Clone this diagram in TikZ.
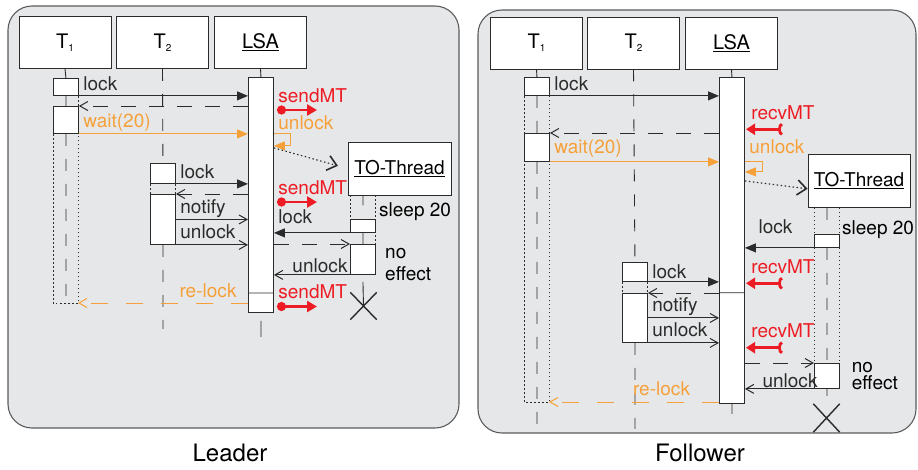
\documentclass[tikz,border=0pt]{standalone}
\usepackage{fontspec}
\setmainfont{TeX Gyre Heros}
\usetikzlibrary{arrows.meta, shapes.misc}
\definecolor{panelfill}{HTML}{E6E7E8}
\definecolor{panelline}{HTML}{5A5B5D}
\definecolor{ink}{HTML}{2B2B2B}
\definecolor{mtred}{HTML}{ED1C24}
\definecolor{lockorange}{HTML}{F6A03A}
\tikzset{
panel/.style={draw=panelline, fill=panelfill, line width=1.1pt, rounded corners=24pt}, % grey plate of one role
caption/.style={font=\fontsize{24}{24}\selectfont, text=black}, % Leader / Follower under the plate
headbox/.style={draw=ink, fill=white, line width=0.9pt, minimum width=92pt, minimum height=52pt, inner sep=0pt, font=\fontsize{20}{20}\selectfont}, % objects on top
actbox/.style={draw=ink, fill=white, line width=0.9pt, minimum width=25pt, inner sep=0pt, anchor=north west}, % activation bars
xmark/.style={draw=ink, cross out, line width=1.4pt, minimum width=25pt, minimum height=26pt, inner sep=0pt}, % thread ends here
solidlife/.style={draw=ink, line width=0.9pt},
life/.style={draw=ink, line width=0.9pt, dash pattern=on 12pt off 13pt}, % dashed lifeline
dotbox/.style={draw=ink, line width=0.9pt, dash pattern=on 1.6pt off 2.4pt}, % thread is waiting
call/.style={color=ink, line width=1pt, -{Triangle[length=11pt, width=9pt]}}, % lock request
signal/.style={color=ink, line width=1pt, -{Straight Barb[length=8pt, width=9pt]}}, % notify / unlock
reply/.style={signal, dash pattern=on 15pt off 13pt}, % return of a call
ocall/.style={call, color=lockorange},
oreply/.style={reply, color=lockorange, dash pattern=on 17pt off 18pt},
timer/.style={color=ink, line width=1.1pt, dash pattern=on 1.5pt off 2.5pt, -{Straight Barb[length=9pt, width=15pt, line width=1.6pt]}},
sendmt/.style={color=mtred, line width=2.8pt, {Circle[length=9pt]}-{Triangle[length=10pt, width=11pt]}},
recvmt/.style={color=mtred, line width=2.8pt, {Arc Barb[reversed, length=4pt, width=13pt]}-{Triangle[length=9pt, width=11pt]}},
tag/.style={anchor=base west, inner sep=0pt, pos=0, xshift=4pt, yshift=#1}, tag/.default=5pt, % label at the start of a message
midtag/.style={anchor=base, inner sep=0pt, yshift=#1},
endtag/.style={anchor=base east, inner sep=0pt, pos=0, xshift=-2pt, yshift=#1},
mttag/.style={anchor=base west, inner sep=0pt, pos=0, yshift=#1},
note/.style={anchor=base west, inner sep=0pt, align=left},
}

\begin{document}
\begin{tikzpicture}[x=1pt, y=-1pt, font=\fontsize{19}{19}\selectfont]
  \useasboundingbox (0,0) rectangle (918,469);

  % ---------------- Leader ----------------
  \draw[panel] (8,6) rectangle (459,428);
  \node[caption] (leader) at (230,453) {Leader};

  \node[headbox] (L_t1) at (65,42.5) {T\raisebox{-3pt}{\fontsize{10}{10}\selectfont 1}};
  \node[headbox] (L_t2) at (162.5,42.5) {T\raisebox{-3pt}{\fontsize{10}{10}\selectfont 2}};
  \node[headbox] (L_lsa) at (260.5,42.5) {\underline{LSA}};
  \node[headbox, minimum width=103pt, minimum height=53pt, font=\fontsize{19}{19}\selectfont] (L_to) at (399.5,168.5) {\underline{TO-Thread}};

  \node[actbox, minimum height=235pt] (L_lsa_act) at (248,77) {};
  \node[actbox, minimum height=17pt] (L_t1_lock) at (53,78) {};
  \node[actbox, minimum height=27pt] (L_t1_wait) at (53,106) {};
  \node[actbox, minimum height=20pt] (L_t2_lock) at (150,163) {};
  \node[actbox, minimum height=50pt] (L_t2_wait) at (150,194) {};
  \node[actbox, minimum height=13pt] (L_to_sleep) at (350,219) {};
  \node[actbox, minimum height=30pt] (L_to_wake) at (350,244) {};
  \node[xmark] (L_end) at (363.5,306) {};

  \coordinate (L_relock) at (78,303);
  \coordinate (L_s1) at (277,110);
  \coordinate (L_s2) at (277,202);
  \coordinate (L_s3) at (277,306.5);

  % lifelines
  \draw[solidlife] (L_t1.south) -- (L_t1_lock.north)
                   (L_t1_lock.south) -- (L_t1_wait.north)
                   (L_lsa.south) -- (L_lsa_act.north)
                   ([yshift=-8pt]L_lsa_act.south) -- ++(0,16)
                   (L_to_sleep.north |- L_to.south) -- ++(0,10)
                   (L_to_sleep.south) -- (L_to_wake.north)
                   ([yshift=-7pt]L_to_wake.south) -- (L_end.center)
                   (L_lsa_act.west |- 0,293) -- (L_lsa_act.east |- 0,293);
  \draw[life] (L_t1_wait.south) -- ([yshift=-4pt]L_t1_wait.south |- L_relock)
              (L_t2.south) -- (L_t2_lock.north)
              (L_t2_wait.south) -- ++(0,84);
  \draw[dotbox] (L_t1_lock.south east) -- (L_t1_wait.north east)
                (L_t1_wait.south west) rectangle (L_relock)
                (L_t2_lock.south west) -- (L_t2_wait.north west)
                (L_t2_lock.south east) -- (L_t2_wait.north east)
                (L_to_sleep.north west |- L_to.south) -- (L_to_sleep.north west)
                (L_to_sleep.north east |- L_to.south) -- (L_to_wake.north east);

  % messages
  \draw (L_t1_lock.south east) edge[call] node[tag]{lock} (L_t1_lock.south east -| L_lsa_act.west)
        (L_lsa_act.west |- L_t1_wait.north) edge[reply] (L_t1_wait.north east)
        (L_t1_wait.south east) edge[ocall] node[tag=6pt]{wait(20)} (L_t1_wait.south east -| L_lsa_act.west)
        (L_t2_lock.south east) edge[call] node[tag]{lock} (L_t2_lock.south east -| L_lsa_act.west)
        (L_lsa_act.west |- L_t2_wait.north) edge[reply] (L_t2_wait.north east)
        (L_t2_wait.east) edge[signal] node[tag=6pt]{notify} (L_t2_wait.east -| L_lsa_act.west)
        (L_t2_wait.south east) edge[signal] node[tag=6pt]{unlock} (L_t2_wait.south east -| L_lsa_act.west)
        (L_to_sleep.south west) edge[call] node[midtag=9pt, pos=0.72]{lock} (L_to_sleep.south west -| L_lsa_act.east)
        (L_lsa_act.east |- L_to_wake.north) edge[reply] (L_to_wake.north west)
        (L_to_wake.south west) edge[signal] node[endtag=2pt]{unlock} (L_to_wake.south west -| L_lsa_act.east)
        (L_lsa_act.west |- L_relock) edge[oreply] node[midtag=6pt, pos=0.235]{re-lock} (L_relock);
  \draw[ocall] (L_lsa_act.east |- L_t1_wait.south) -- node[tag=4pt]{unlock} ++(17,0) -- ++(0,12) -- ++(-17,0) coordinate (L_loop);
  \draw[timer, shorten >=10pt] ([yshift=-2pt]L_loop) -- (L_to.west);
  \draw[sendmt] (L_s1) -- node[mttag=8pt]{sendMT} ++(40,0);
  \draw[sendmt] (L_s2) -- node[mttag=8pt]{sendMT} ++(40,0);
  \draw[sendmt] (L_s3) -- node[mttag=8pt]{sendMT} ++(40,0);

  \node[note] (L_sleep) at (379,216) {sleep 20};
  \node[note, font=\fontsize{19}{21.7}\selectfont] (L_noeffect) at (385,280) {no\\effect};

  % ---------------- Follower ----------------
  \draw[panel] (478,10) rectangle (916,433);
  \node[caption] (follower) at (700,453) {Follower};

  \node[headbox] (R_t1) at (536.5,43) {T\raisebox{-3pt}{\fontsize{10}{10}\selectfont 1}};
  \node[headbox] (R_t2) at (633.5,43) {T\raisebox{-3pt}{\fontsize{10}{10}\selectfont 2}};
  \node[headbox] (R_lsa) at (731.5,43) {\underline{LSA}};
  \node[headbox, minimum width=102pt, minimum height=53pt, font=\fontsize{19}{19}\selectfont] (R_to) at (859,180.8) {\underline{TO-Thread}};

  \node[actbox, minimum height=326pt] (R_lsa_act) at (719,77) {};
  \node[actbox, minimum height=18pt] (R_t1_lock) at (524,77) {};
  \node[actbox, minimum height=28pt] (R_t1_wait) at (524,133) {};
  \node[actbox, minimum height=19pt] (R_t2_lock) at (622,262) {};
  \node[actbox, minimum height=49pt] (R_t2_wait) at (622,293) {};
  \node[actbox, minimum height=13pt] (R_to_sleep) at (814,234) {};
  \node[actbox, minimum height=25pt] (R_to_wake) at (814,363) {};
  \node[xmark, minimum height=27pt] (R_end) at (826.5,418) {};

  \coordinate (R_relock) at (549,402);
  \coordinate (R_r1) at (782,129.3);
  \coordinate (R_r2) at (782,283.3);
  \coordinate (R_r3) at (782,347.7);

  % lifelines
  \draw[solidlife] (R_t1.south) -- (R_t1_lock.north)
                   (R_lsa.south) -- (R_lsa_act.north)
                   (R_lsa_act.south) -- ++(0,10)
                   (R_to_sleep.north |- R_to.south) -- ++(0,12)
                   (R_to_wake.south) -- ++(0,7)
                   (R_lsa_act.west |- 0,292.7) -- (R_lsa_act.east |- 0,292.7);
  \draw[life] (R_t1_lock.south) -- (R_t1_wait.north)
              (R_t1_wait.south) -- ++(0,269)
              (R_t2.south) -- (R_t2_lock.north)
              (R_t2_wait.south) -- ++(0,86)
              (R_to_sleep.south) -- (R_to_wake.north);
  \draw[dotbox] (R_t1_lock.south west) rectangle (R_relock)
                (R_t2_lock.south west) -- (R_t2_wait.north west)
                (R_t2_lock.south east) -- (R_t2_wait.north east)
                (R_to_sleep.north west |- R_to.south) -- (R_to_wake.north west)
                (R_to_sleep.north east |- R_to.south) -- (R_to_wake.north east);

  % messages
  \draw (R_t1_lock.south east) edge[call] node[tag]{lock} (R_t1_lock.south east -| R_lsa_act.west)
        (R_lsa_act.west |- R_t1_wait.north) edge[reply] (R_t1_wait.north east)
        (R_t1_wait.south east) edge[ocall] node[tag=8pt]{wait(20)} (R_t1_wait.south east -| R_lsa_act.west)
        (R_t2_lock.south east) edge[call] node[tag=3pt]{lock} (R_t2_lock.south east -| R_lsa_act.west)
        (R_lsa_act.west |- R_t2_wait.north) edge[reply] (R_t2_wait.north east)
        (R_t2_wait.east) edge[signal] node[tag=6pt]{notify} (R_t2_wait.east -| R_lsa_act.west)
        (R_t2_wait.south east) edge[signal] node[tag=6pt]{unlock} (R_t2_wait.south east -| R_lsa_act.west)
        (R_to_sleep.south west) edge[call] node[midtag=14pt, pos=0.557]{lock} (R_to_sleep.south west -| R_lsa_act.east)
        (R_lsa_act.east |- R_to_wake.north) edge[reply] (R_to_wake.north west)
        (R_to_wake.south west) edge[signal] node[endtag=1.5pt, xshift=6pt]{unlock} (R_to_wake.south west -| R_lsa_act.east)
        (R_lsa_act.west |- R_relock) edge[oreply] node[midtag=7pt, pos=0.338]{re-lock} (R_relock);
  \draw[ocall] (R_lsa_act.east |- R_t1_wait.south) -- node[tag=8pt]{unlock} ++(18,0) -- ++(0,10) -- ++(-18,0) coordinate (R_loop);
  \draw[timer] ([yshift=-9pt]R_loop) -- ([yshift=-8pt]R_to.west);
  \draw[recvmt] (R_r1) -- node[tag=10pt, pos=1]{recvMT} ++(-36,0);
  \draw[recvmt] (R_r2) -- node[tag=10pt, pos=1]{recvMT} ++(-36,0);
  \draw[recvmt] (R_r3) -- node[tag=10pt, pos=1]{recvMT} ++(-36,0);

  \node[note] (R_sleep) at (842,234.5) {sleep 20};
  \node[note, font=\fontsize{19}{17}\selectfont] (R_noeffect) at (851.7,389.5) {no\\effect};
\end{tikzpicture}
\end{document}
